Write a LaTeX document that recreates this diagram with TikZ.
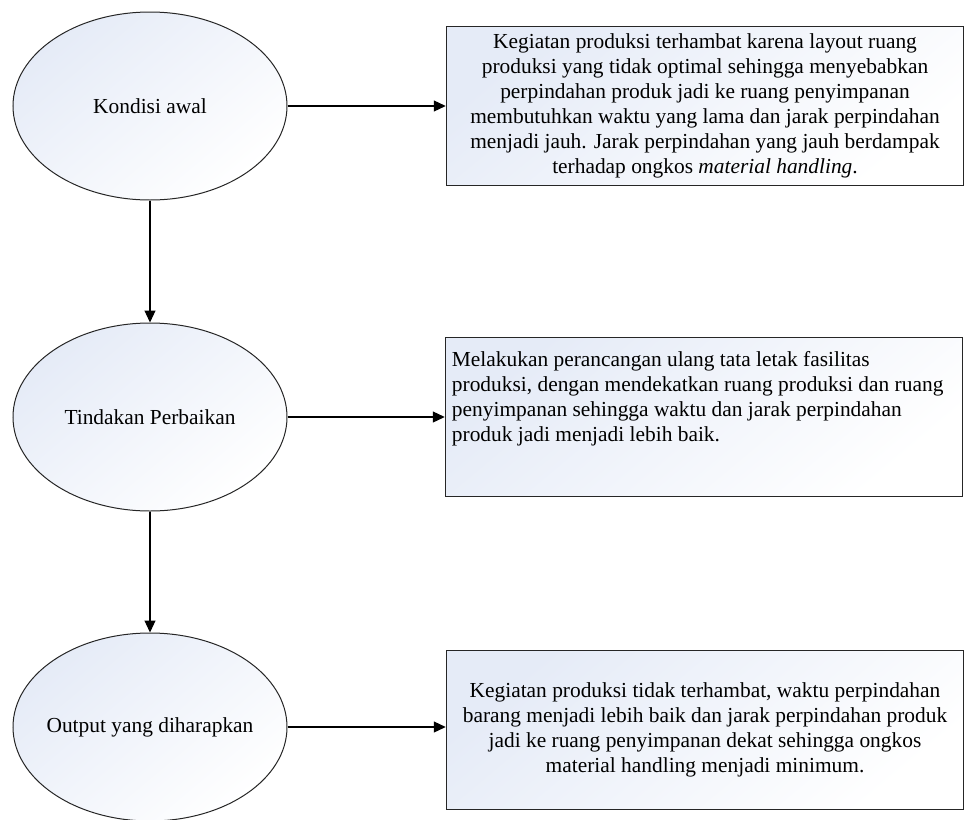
\documentclass[tikz,border=0pt]{standalone}
\usepackage{fontspec}
\setmainfont{Liberation Serif}
\usetikzlibrary{shapes.geometric,arrows.meta}
\definecolor{fillblue}{RGB}{229,235,247}
\begin{document}
\begin{tikzpicture}[x=1pt,y=-1pt,
  font=\fontsize{21.4}{25}\selectfont,
  elp/.style={ellipse, draw=black!85, line width=1pt, minimum width=274pt, minimum height=188pt, inner sep=0pt, top color=fillblue, bottom color=white, shading angle=40},
  box/.style={rectangle, draw=black!85, line width=1.5pt, minimum width=517pt, minimum height=159pt, inner sep=0pt, top color=fillblue, bottom color=white, shading angle=40},
  arr/.style={line width=1.2pt, -{Triangle[length=12pt,width=11pt]}}]
\useasboundingbox (0,0) rectangle (971,819);
\node[elp] (elp0) at (150,106){\makebox[0pt]{Kondisi awal}};
\node[elp] (elp1) at (150,417){\makebox[0pt]{Tindakan Perbaikan}};
\node[elp] (elp2) at (150,727){\makebox[0pt]{Output yang diharapkan}};
\node[box, align=center] (box0) at (705,106){Kegiatan produksi terhambat karena layout ruang\\produksi yang tidak optimal sehingga menyebabkan\\perpindahan produk jadi ke ruang penyimpanan\\membutuhkan waktu yang lama dan jarak perpindahan\\menjadi jauh. Jarak perpindahan yang jauh berdampak\\terhadap ongkos \textit{material handling}.};
\node[box] (box1) at (704,417){};
\node[anchor=north west, align=left, inner sep=0pt] (txt1) at ([xshift=7pt,yshift=-14pt]box1.north west){Melakukan perancangan ulang tata letak fasilitas\\produksi, dengan mendekatkan ruang produksi dan ruang\\penyimpanan sehingga waktu dan jarak perpindahan\\produk jadi menjadi lebih baik.};
\node[box, align=center] (box2) at (705,730){Kegiatan produksi tidak terhambat, waktu perpindahan\\barang menjadi lebih baik dan jarak perpindahan produk\\jadi ke ruang penyimpanan dekat sehingga ongkos\\material handling menjadi minimum.};
\draw[arr](elp0) -- (elp1);
\draw[arr](elp1) -- (elp2);
\draw[arr](elp0) -- (box0);
\draw[arr](elp1) -- (elp1 -| box1.west);
\draw[arr](elp2) -- (elp2 -| box2.west);

\end{tikzpicture}
\end{document}
